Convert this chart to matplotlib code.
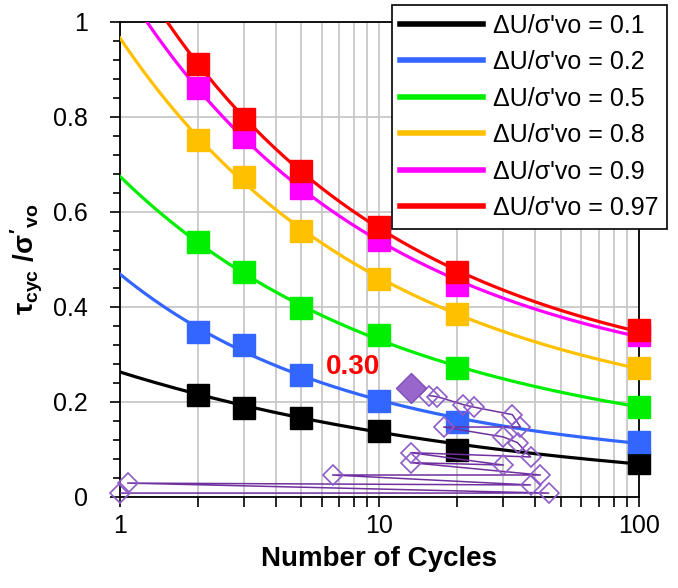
import numpy as np
import matplotlib
matplotlib.use("Agg")
import matplotlib.pyplot as plt
from matplotlib.ticker import LogLocator, FixedLocator, NullFormatter, FixedFormatter

plt.rcParams['font.family'] = ['Liberation Sans', 'DejaVu Sans']
plt.rcParams['mathtext.fontset'] = 'custom'
plt.rcParams['mathtext.rm'] = 'Liberation Sans:bold'
plt.rcParams['mathtext.it'] = 'Liberation Sans:bold'
plt.rcParams['mathtext.bf'] = 'Liberation Sans:bold'

# cyclic strength points for each pore pressure ratio
cycles = [2, 3, 5, 10, 20, 100]
ru_labels = ["0.1", "0.2", "0.5", "0.8", "0.9", "0.97"]
csr_01 = [0.215, 0.187, 0.166, 0.139, 0.099, 0.072]
csr_02 = [0.347, 0.320, 0.257, 0.202, 0.158, 0.116]
csr_05 = [0.537, 0.474, 0.398, 0.341, 0.272, 0.189]
csr_08 = [0.752, 0.674, 0.560, 0.459, 0.385, 0.272]
csr_09 = [0.861, 0.758, 0.650, 0.541, 0.446, 0.341]
csr_097 = [0.912, 0.796, 0.686, 0.568, 0.474, 0.352]
colors = ['black', '#3366FF', '#00EE00', '#FFC000', '#FF00FF', '#FF0000']

# trend curves (N, CSR) - first point is where each enters the plot
curve_01_n = [1, 2, 3, 5, 10, 20, 100]
curve_01 = [0.265, 0.215, 0.190, 0.166, 0.137, 0.112, 0.069]
curve_02_n = [1, 2, 3, 5, 10, 20, 100]
curve_02 = [0.469, 0.347, 0.315, 0.257, 0.202, 0.165, 0.113]
curve_05_n = [1, 2, 3, 5, 10, 20, 100]
curve_05 = [0.672, 0.537, 0.474, 0.398, 0.335, 0.272, 0.190]
curve_08_n = [1, 2, 3, 5, 10, 20, 100]
curve_08 = [0.964, 0.752, 0.674, 0.560, 0.459, 0.385, 0.270]
curve_09_n = [1.25, 2, 3, 5, 10, 20, 100]
curve_09 = [1.0, 0.861, 0.758, 0.650, 0.541, 0.452, 0.338]
curve_097_n = [1.52, 2, 3, 5, 10, 20, 100]
curve_097 = [1.0, 0.912, 0.796, 0.686, 0.568, 0.474, 0.348]

# test record (purple diamonds)
test_n = [1.0, 45.0, 1.07, 38.3, 6.6, 41.8, 13.2, 30.1, 13.2, 38.3,
          34.1, 30.1, 17.7, 35.0, 32.6, 23.1, 21.1, 16.7, 15.6]
test_csr = [0.008, 0.008, 0.029, 0.025, 0.046, 0.046, 0.072, 0.067, 0.093, 0.084,
            0.114, 0.126, 0.147, 0.147, 0.173, 0.189, 0.194, 0.211, 0.213]
peak_n = [13.2]
peak_csr = [0.230]
peak_label = "0.30"

y_ticks = [0, 0.2, 0.4, 0.6, 0.8, 1.0]
y_ticklabels = ['0', '0.2', '0.4', '0.6', '0.8', '1']
x_ticks = [1, 10, 100]
x_ticklabels = ['1', '10', '100']

fig = plt.figure(figsize=(6.78, 5.88), dpi=100)
ax = fig.add_axes([0.177, 0.155, 0.765, 0.808])

all_csr = [csr_01, csr_02, csr_05, csr_08, csr_09, csr_097]
all_curve_n = [curve_01_n, curve_02_n, curve_05_n, curve_08_n, curve_09_n, curve_097_n]
all_curve = [curve_01, curve_02, curve_05, curve_08, curve_09, curve_097]
for csr, cn, cv, col, lab in zip(all_csr, all_curve_n, all_curve, colors, ru_labels):
    # smooth trend through the read curve values (quadratic in log-log)
    p = np.polyfit(np.log10(cn), np.log10(cv), 2)
    nn = np.logspace(np.log10(cn[0]), 2, 200)
    ax.plot(nn, 10 ** np.polyval(p, np.log10(nn)), color=col, lw=2.3, zorder=3,
            label="\u0394U/\u03c3'vo = " + lab)
    ax.plot(cycles, csr, 's', color=col, ms=16, zorder=4, clip_on=False)

ax.plot(test_n, test_csr, '-', color='#7030A0', lw=1.1, zorder=5)
ax.plot(test_n, test_csr, 'D', mfc='none', mec='#8E5CC8', mew=1.2, ms=10, zorder=5,
        clip_on=False)
ax.plot(peak_n, peak_csr, 'D', color='#9966CC', mec='#7F4FB5', ms=15, zorder=6)
ax.text(7.9, 0.274, peak_label, color='red', fontsize=20, fontweight='bold',
        ha='center', va='center', zorder=7)

ax.set_xscale('log')
ax.set_xlim(1, 100)
ax.set_ylim(0, 1)
ax.xaxis.set_major_locator(FixedLocator(x_ticks))
ax.xaxis.set_major_formatter(FixedFormatter(x_ticklabels))
ax.xaxis.set_minor_locator(LogLocator(base=10, subs=np.arange(2, 10)))
ax.xaxis.set_minor_formatter(NullFormatter())
ax.yaxis.set_major_locator(FixedLocator(y_ticks))
ax.yaxis.set_major_formatter(FixedFormatter(y_ticklabels))
ax.yaxis.set_minor_locator(FixedLocator(np.arange(0, 1.001, 0.04)))
ax.tick_params(which='both', direction='out', labelsize=18, width=1.2)
ax.tick_params(which='major', length=7)
ax.tick_params(axis='x', which='major', pad=5)
ax.tick_params(axis='y', which='major', pad=16)
ax.tick_params(which='minor', length=5)
ax.tick_params(axis='x', which='minor', length=7)

ax.grid(True, which='major', axis='y', color='#C8C8C8', lw=1.3, zorder=0)
ax.grid(True, which='both', axis='x', color='#C8C8C8', lw=1.3, zorder=0)
ax.set_axisbelow(True)
for sp in ax.spines.values():
    sp.set_linewidth(1.3)

ax.set_xlabel('Number of Cycles', fontsize=20, fontweight='bold', labelpad=6)
ax.set_ylabel(r"$\tau_{cyc}\ /\sigma'_{vo}$", fontsize=20, labelpad=6)

leg = ax.legend(loc='upper right', bbox_to_anchor=(0.984, 0.9915),
                bbox_transform=fig.transFigure, borderaxespad=0, fontsize=18,
                handlelength=3.3, labelspacing=0.5, handletextpad=0.4,
                borderpad=0.35, fancybox=False, framealpha=1, edgecolor='black')
leg.get_frame().set_linewidth(1.2)
for ln in leg.get_lines():
    ln.set_linewidth(4)

fig.savefig('out.png', dpi=100)
